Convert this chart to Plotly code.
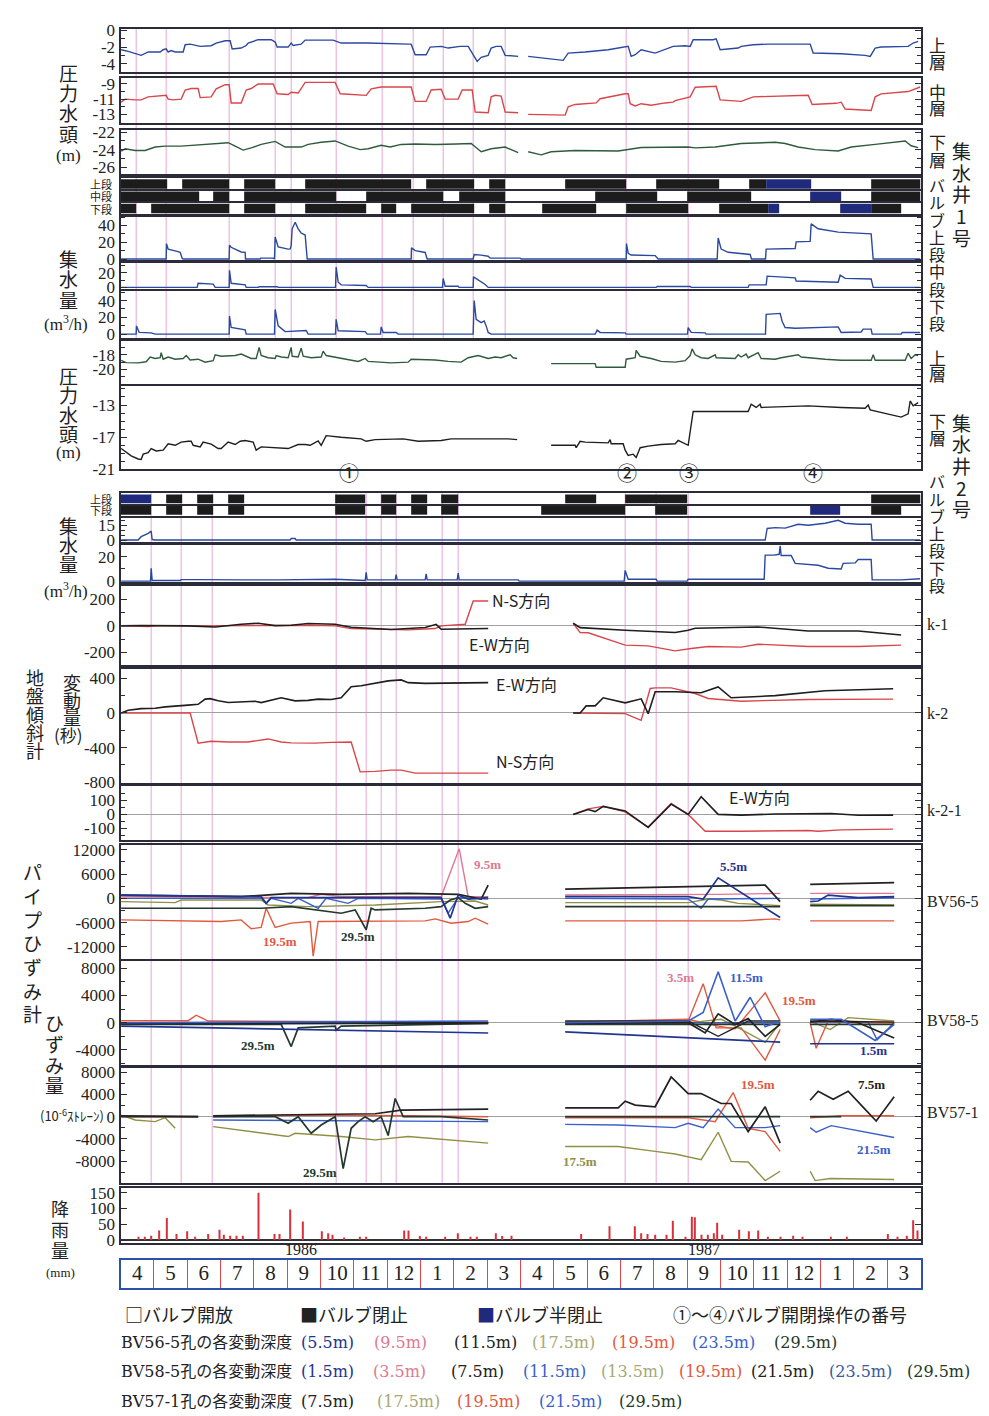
import plotly.graph_objects as go

# ====================== DATA ======================
# x values: months counted from 1 April 1986 (0) to 1 April 1988 (24)
month_labels = ['4', '5', '6', '7', '8', '9', '10', '11', '12', '1', '2', '3',
                '4', '5', '6', '7', '8', '9', '10', '11', '12', '1', '2', '3']
year_labels = ['1986', '1987']
year_pos = [5.4, 17.5]

# valve operation times (pink reference lines)
ops_top = [0.47, 1.37, 3.26, 4.64, 5.12, 6.47, 7.85, 8.78, 9.68, 10.58, 11.54, 15.17, 17.03]
ops_bottom = [0.92, 1.82, 2.75, 6.47, 7.37, 7.82, 8.27, 9.65, 10.13, 15.14, 16.07, 17.03]
op_numbers = ['①', '②', '③', '④']
op_times = [6.85, 15.2, 17.05, 20.78]

# ---- collecting well No.1 : pressure head (m) ----
w1_up_t = [0.02, 0.23, 0.62, 0.83, 1.19, 1.28, 1.37, 1.43, 1.52, 1.64, 1.88, 1.94, 2.09, 2.39, 2.72, 2.87, 3.14, 3.29, 3.35, 3.62,
           3.77, 3.83, 4.13, 4.52, 4.64, 4.70, 5.03, 5.12, 5.18, 5.42, 5.54, 6.38, 6.62, 7.43, 8.63, 8.72, 8.84, 9.17, 9.29, 9.62,
           9.83, 10.19, 10.43, 10.58, 10.70, 10.82, 11.03, 11.12, 11.27, 11.42, 11.54, 11.93, None,
           12.23, 13.28, 13.43, 13.94, 14.63, 15.14, 15.23, 15.32, 15.44, 15.62, 15.74, 16.04, 16.58, 16.94, 17.09, 17.18, 17.78,
           17.87, 17.99, 18.53, 18.62, 18.98, 19.43, 20.69, 20.78, 21.62, 22.34, 22.49, 22.64, 22.82, 23.63, 23.78, 23.93]
w1_up_v = [-2.3, -2.5, -2.97, -2.57, -2.57, -2.3, -2.2, -2.57, -2.4, -2.57, -2.57, -1.7, -1.63, -1.9, -1.82, -1.5, -1.23, -1.23, -2.2, -2.1,
           -1.8, -1.5, -1.1, -1.1, -1.38, -1.98, -1.98, -1.5, -1.78, -1.63, -1.15, -1.15, -1.5, -1.5, -1.63, -1.63, -2.9, -2.9, -1.98, -1.9,
           -2.1, -1.9, -1.9, -2.9, -3.7, -3.2, -2.97, -2.1, -1.9, -1.9, -2.97, -3.1, None,
           -3.1, -3.57, -2.7, -2.57, -2.3, -1.9, -1.9, -3.1, -2.9, -2.3, -2.4, -2.7, -1.9, -1.82, -1.9, -1.1, -1.1, -1.0, -2.3, -2.1,
           -1.9, -1.7, -1.63, -1.63, -2.7, -2.78, -2.97, -3.1, -2.1, -1.98, -1.9, -1.5, -1.3]

w1_mid_t = [0.02, 0.14, 0.44, 0.62, 0.83, 1.22, 1.37, 1.43, 1.58, 1.82, 1.94, 2.12, 2.33, 2.39, 2.72, 2.87, 3.14, 3.26, 3.32, 3.62,
            3.77, 3.92, 4.13, 4.58, 4.70, 5.03, 5.12, 5.33, 5.42, 5.54, 6.44, 6.59, 7.37, 7.52, 7.82, 8.72, 8.84, 9.17, 9.32, 9.62,
            9.74, 10.13, 10.25, 10.55, 10.64, 11.03, 11.12, 11.24, 11.42, 11.54, 11.93, None,
            12.23, 13.34, 13.43, 13.64, 14.27, 14.39, 15.14, 15.23, 15.29, 15.44, 15.62, 15.92, 16.34, 16.58, 16.64, 17.09, 17.24, 17.78,
            17.87, 17.99, 18.62, 18.98, 20.63, 20.75, 21.47, 21.62, 21.74, 22.52, 22.64, 22.82, 23.63, 23.99]
w1_mid_v = [-11.4, -11.0, -11.1, -11.1, -10.7, -10.5, -10.5, -11.0, -11.1, -11.0, -9.8, -9.6, -9.6, -10.8, -10.7, -9.65, -9.1, -9.1, -11.5, -11.5,
            -9.8, -9.6, -9.0, -9.0, -10.3, -10.4, -10.1, -10.2, -9.65, -8.8, -8.8, -10.3, -10.5, -9.65, -9.4, -9.4, -11.3, -11.3, -9.8, -9.7,
            -11.0, -11.0, -9.8, -9.8, -12.7, -12.8, -10.7, -10.5, -10.6, -12.7, -12.8, None,
            -13.0, -13.1, -12.0, -11.7, -11.5, -10.95, -10.3, -10.3, -11.6, -11.9, -11.6, -11.8, -11.5, -11.4, -11.2, -10.7, -9.43, -9.35,
            -9.3, -11.1, -11.3, -10.7, -10.5, -11.7, -11.55, -11.4, -12.3, -12.5, -10.7, -10.3, -10.0, -9.4]

w1_low_t = [0.02, 0.14, 0.44, 0.74, 1.04, 1.34, 1.82, 2.63, 3.23, 3.44, 3.68, 3.92, 4.22, 4.64, 4.94, 5.42, 5.63, 6.02, 6.44, 6.83,
            7.19, 7.43, 7.82, 8.09, 8.42, 8.84, 9.44, 10.07, 10.52, 10.82, 11.12, 11.54, 11.93, None,
            12.23, 12.62, 12.92, 13.64, 14.93, 15.62, 17.03, 17.24, 17.84, 18.62, 19.64, 19.94, 20.33, 20.84, 21.53, 21.92, 22.64, 23.54, 23.72, 23.93]
w1_low_v = [-24.17, -23.9, -24.1, -24.1, -23.7, -23.6, -23.6, -23.4, -23.2, -23.6, -24.05, -23.8, -23.4, -23.05, -23.7, -23.7, -23.4, -23.15, -23.0, -23.6,
            -24.0, -23.9, -23.5, -23.7, -23.4, -23.35, -23.4, -23.35, -23.3, -24.24, -23.9, -23.7, -24.35, None,
            -24.24, -24.6, -24.24, -24.1, -24.15, -23.76, -23.7, -23.8, -23.7, -23.3, -23.15, -23.3, -23.7, -24.0, -24.15, -23.7, -23.4, -23.0, -23.55, -23.76]

# ---- collecting well No.1 : valves (1 = closed, 2 = half closed) ----
v1_up_start = [0, 1.85, 3.71, 5.54, 9.17, 11.06, 13.34, 16.07, 18.86, 19.37, 22.52]
v1_up_end = [1.40, 3.26, 4.64, 8.72, 10.61, 11.54, 15.17, 17.96, 19.37, 20.72, 24.0]
v1_up_state = [1, 1, 1, 1, 1, 1, 1, 1, 1, 2, 1]
v1_mid_start = [0, 2.78, 3.71, 7.37, 10.16, 14.24, 17.0, 20.69, 22.52]
v1_mid_end = [2.36, 3.26, 6.47, 9.68, 11.54, 16.10, 18.92, 21.62, 24.0]
v1_mid_state = [1, 1, 1, 1, 1, 1, 1, 2, 1]
v1_low_start = [0, 0.92, 3.71, 5.54, 7.82, 8.72, 11.06, 12.65, 15.17, 17.96, 19.43, 21.59, 22.52]
v1_low_end = [0.47, 3.26, 4.64, 7.37, 8.27, 10.61, 11.54, 14.27, 17.03, 19.43, 19.76, 22.52, 23.42]
v1_low_state = [1, 1, 1, 1, 1, 1, 1, 1, 1, 1, 2, 2, 1]

# ---- collecting well No.1 : discharge (m3/h) ----
f1_up_t = [0.02, 1.37, 1.38, 1.43, 1.67, 1.79, 1.85, 1.88, 3.26, 3.27, 3.32, 3.62, 3.74, 3.75, 4.19, 4.20, 4.58, 4.62, 4.64, 4.73,
           5.03, 5.09, 5.12, 5.15, 5.24, 5.33, 5.42, 5.54, 5.60, 8.72, 8.73, 8.84, 9.14, 9.20, 10.58, 10.61, 10.82, 11.03, 11.09, 11.99,
           12.02, 15.17, 15.18, 15.23, 15.32, 16.04, 16.13, 17.90, 17.93, 18.02, 18.23, 18.89, 18.93, 19.35, 19.37, 20.24, 20.27, 20.69, 20.72, 20.93,
           21.53, 22.52, 22.58, 23.99]
f1_up_v = [0, 0, 18.4, 11.8, 9.4, 8, 0.8, 0, 0, 16.5, 14, 8.4, 8, 0, 0, 1, 1, 0, 26.2, 14.5,
           11.8, 12, 15.7, 36, 43.9, 36, 31, 28.6, 0, 0, 13.3, 10, 7.8, 0, 0, 5.4, 4.7, 3.3, 1, 1,
           0, 0, 18.4, 6.7, 4.7, 4.1, 0, 0, 25, 11.8, 8, 5.4, 0, 0, 11.8, 12.5, 20.4, 21, 41.9, 36,
           32.1, 30, 0, 0]
f1_mid_t = [0.02, 2.30, 2.33, 2.78, 2.84, 3.26, 3.27, 3.32, 3.74, 3.77, 4.13, 4.16, 4.70, 4.73, 6.45, 6.47, 6.53, 6.62, 7.37, 7.43,
            9.66, 9.68, 9.74, 10.13, 10.16, 10.58, 10.59, 10.73, 10.94, 11.03, 11.63, 11.66, 12.02, 12.05, 12.92, 12.95, 13.34, 13.37, 13.82, 13.85,
            14.27, 14.30, 16.07, 16.10, 17.09, 17.12, 18.83, 18.86, 19.37, 19.40, 19.61, 20.24, 20.27, 21.53, 21.59, 21.74, 22.52, 22.58, 23.99]
f1_mid_v = [0, 0, 5.6, 4.5, 0, 0, 23, 5.6, 3.5, 0, 0, 1, 1, 0, 0, 27.4, 7, 3.5, 2.5, 0,
            0, 12, 1.5, 1.5, 0, 0, 14.3, 10, 4, 0, 0, 1, 1, 0, 0, 1, 1, 0, 0, 1,
            1, 0, 0, 1.3, 1.3, 0, 0, 3.5, 3.5, 15.2, 14.5, 13, 8.7, 7, 16.5, 12.2, 11.3, 0, 0]
f1_low_t = [0.02, 0.47, 0.48, 0.56, 0.92, 1.04, 3.26, 3.27, 3.32, 3.74, 3.77, 4.62, 4.64, 4.73, 4.94, 5.18, 5.24, 5.57, 5.63, 6.45,
            6.47, 6.53, 7.34, 7.40, 7.80, 7.82, 7.88, 8.27, 8.33, 10.58, 10.61, 10.67, 10.82, 10.91, 10.97, 11.03, 11.12, 14.24, 14.30, 14.39,
            15.14, 15.17, 17.01, 17.03, 17.12, 17.54, 17.57, 19.35, 19.37, 19.52, 19.79, 19.85, 19.94, 20.24, 21.53, 21.62, 22.22, 22.28, 22.52, 22.55,
            23.42, 23.45, 23.99]
f1_low_v = [0, 0, 9.8, 2, 1.5, 0, 0, 21.5, 8, 5, 0, 0, 29.4, 9.8, 3, 3.5, 4.3, 4.3, 0, 0,
            17.6, 4, 3, 0, 0, 8.6, 2, 2, 0, 0, 40, 17.6, 13.7, 15.7, 9.8, 2, 0, 0, 4.7, 2,
            1.5, 0, 0, 7.8, 2, 1.5, 0, 0, 23.5, 24, 24.7, 15, 7.8, 7, 8.6, 2, 2.5, 6, 6, 0,
            0, 2, 2]

# ---- collecting well No.2 : pressure head (m) ----
w2_up_t = [0.02, 0.17, 0.53, 0.77, 0.89, 1.04, 1.19, 1.22, 1.28, 1.43, 1.64, 1.88, 1.97, 2.09, 2.33, 2.54, 2.78, 2.84, 3.02, 3.44,
           3.62, 3.77, 3.92, 4.07, 4.16, 4.22, 4.43, 4.64, 4.67, 4.82, 5.03, 5.12, 5.15, 5.33, 5.42, 5.48, 5.72, 6.02, 6.08, 6.17,
           6.62, 7.13, 7.34, 7.43, 8.12, 8.63, 8.72, 9.02, 9.44, 9.83, 10.22, 10.43, 10.73, 11.03, 11.24, 11.42, 11.69, 11.78, 11.90, None,
           12.92, 14.24, 14.27, 15.14, 15.17, 15.44, 15.47, 15.59, 15.92, 16.22, 16.64, 16.94, 17.09, 17.15, 17.24, 17.42, 17.63, 17.84, 17.87, 18.44,
           18.53, 18.62, 18.77, 18.83, 19.13, 19.22, 19.64, 19.82, 20.33, 20.42, 21.14, 21.62, 22.52, 22.58, 22.64, 23.54, 23.63, 23.72, 23.84, 23.93]
w2_up_v = [-18.76, -19.07, -19.1, -18.95, -18.3, -18.5, -18.4, -17.7, -18.6, -18.3, -18.6, -18.5, -18.1, -18.7, -18.6, -19.0, -18.8, -18.0, -18.2, -18.1,
           -17.9, -18.2, -18.5, -18.5, -17.0, -18.1, -18.4, -18.5, -18.1, -18.3, -18.4, -17.0, -18.2, -18.3, -17.1, -18.2, -18.4, -18.3, -17.5, -18.1,
           -18.5, -18.9, -18.5, -18.9, -19.1, -19.0, -18.6, -18.6, -18.7, -18.9, -19.0, -18.4, -18.1, -18.5, -18.3, -18.4, -18.0, -18.4, -18.5, None,
           -19.2, -19.2, -19.7, -19.7, -18.6, -18.4, -17.4, -18.2, -18.5, -18.9, -19.0, -18.8, -18.1, -17.2, -18.0, -18.4, -18.5, -18.0, -18.4, -18.5,
           -18.0, -18.3, -17.9, -18.4, -17.7, -18.5, -18.6, -18.4, -18.0, -18.3, -18.6, -18.75, -18.75, -18.0, -18.75, -18.75, -17.8, -18.5, -18.0, -18.1]
w2_low_t = [0.02, 0.17, 0.32, 0.53, 0.62, 0.68, 0.83, 0.92, 1.07, 1.28, 1.43, 1.64, 1.82, 2.03, 2.12, 2.18, 2.39, 2.48, 2.72, 2.93,
            3.02, 3.23, 3.44, 3.59, 3.74, 3.98, 4.07, 4.22, 4.52, 5.03, 5.33, 5.54, 5.69, 5.93, 6.02, 6.17, 6.62, 7.22, 7.37, 7.64,
            8.48, 8.93, 9.62, 9.92, 11.63, 11.90, None,
            12.92, 13.64, 13.67, 13.79, 13.94, 14.42, 14.63, 14.69, 14.72, 15.08, 15.14, 15.23, 15.38, 15.47, 15.59, 15.83, 16.22, 16.64, 16.73, 17.03,
            17.12, 17.18, 18.83, 18.92, 19.07, 19.19, 19.22, 20.63, 21.62, 22.34, 22.43, 22.49, 23.42, 23.63, 23.69, 23.78, 23.93]
w2_low_v = [-18.4, -18.8, -19.3, -19.7, -19.75, -19.1, -18.9, -18.4, -18.7, -18.6, -17.8, -18.0, -17.6, -17.5, -17.5, -18.0, -18.2, -17.6, -17.85, -18.4,
            -18.4, -17.6, -17.9, -17.5, -17.4, -17.6, -18.6, -18.2, -18.3, -18.4, -17.9, -17.9, -18.0, -17.45, -18.0, -16.8, -17.0, -17.2, -17.5, -17.3,
            -17.2, -17.5, -17.4, -17.2, -17.2, -17.3, None,
            -18.0, -18.0, -18.3, -17.5, -17.6, -17.7, -17.7, -17.3, -17.8, -17.8, -18.6, -19.25, -19.1, -19.5, -18.3, -18.1, -17.9, -17.8, -17.4, -18.0,
            -15.3, -13.8, -13.8, -12.9, -13.3, -12.9, -13.3, -13.1, -13.3, -13.4, -13.0, -13.6, -14.5, -14.1, -12.5, -13.1, -12.7]

# ---- collecting well No.2 : valves ----
v2_up_start = [0, 1.37, 2.30, 3.23, 6.44, 7.82, 8.72, 9.62, 13.34, 15.14, 22.52]
v2_up_end = [0.92, 1.85, 2.78, 3.71, 7.34, 8.27, 9.20, 10.13, 14.27, 17.0, 24.0]
v2_up_state = [2, 1, 1, 1, 1, 1, 1, 1, 1, 1, 1]
v2_low_start = [0, 1.37, 2.30, 3.23, 6.44, 7.82, 8.72, 9.62, 12.62, 16.04, 20.69, 22.52]
v2_low_end = [0.92, 1.85, 2.78, 3.71, 7.34, 8.27, 9.20, 10.13, 15.14, 17.0, 21.59, 23.42]
v2_low_state = [1, 1, 1, 1, 1, 1, 1, 1, 1, 1, 2, 1]

# ---- collecting well No.2 : discharge (m3/h) ----
f2_up_t = [0.02, 0.53, 0.62, 0.83, 0.92, 0.95, 1.04, 5.09, 5.12, 5.24, 5.27, 19.34, 19.40, 19.64, 19.94, 20.33, 20.63, 21.14, 21.53, 21.74,
           22.13, 22.52, 22.55, 23.99]
f2_up_v = [0, 0, 3.4, 6.7, 9, 0.5, 0, 0, 1.5, 1.5, 0, 0, 11.7, 12.5, 12, 16, 15, 17, 20, 17,
           16, 16, 0, 0]
f2_low_t = [0.02, 0.90, 0.92, 0.95, 1.79, 1.82, 2.33, 2.78, 3.71, 4.73, 6.44, 7.34, 7.37, 7.40, 8.24, 8.27, 8.30, 9.14, 9.17, 9.20,
            10.10, 10.13, 10.16, 11.93, 11.96, 15.11, 15.14, 15.23, 16.07, 16.10, 17.0, 17.03, 19.31, 19.34, 19.61, 19.76, 19.79, 19.82, 20.12, 20.24,
            20.93, 21.23, 21.62, 21.68, 22.04, 22.13, 22.52, 22.55, 23.42, 23.99]
f2_low_v = [0, 0, 10.6, 0.5, 0.5, 1.2, 1.2, 1, 1, 1, 1.5, 0.5, 7.2, 1, 1, 5.3, 1, 1, 6, 1,
            1, 6.6, 1, 1, 0, 0, 8.8, 1.6, 1.6, 0, 0, 1.5, 1.5, 21.3, 21.3, 22, 29, 21, 21, 14.6,
            13, 10.6, 10, 14.6, 15, 17.8, 17.8, 1, 1, 2]

# ---- ground tiltmeters (seconds) ----
k1_ew_t = [0.02, 0.62, 2.03, 2.63, 2.84, 3.62, 4.13, 4.64, 5.12, 5.63, 6.44, 6.92, 7.13, 7.64, 8.12, 8.63, 9.14, 9.47, 9.62, 11.03, None,
           13.58, 13.79, 15.14, 16.64, 17.03, 17.24, 19.13, 20.63, 22.13, 23.42]
k1_ew_v = [0, 3, 0, -5, -8, 12, 20, 2, 5, 18, 12, -10, -13, -20, -27, -20, -12, 12, -25, -20, None,
           20, -13, -33, -50, -33, -18, -8, -38, -38, -68]
k1_ns_t = [0.02, 0.83, 1.13, 2.63, 5.63, 6.44, 6.92, 7.64, 8.63, 9.44, 9.62, 10.34, 10.58, 11.03, None,
           13.58, 13.79, 14.03, 15.14, 15.83, 16.64, 17.12, 17.63, 18.62, 19.13, 20.63, 22.13, 23.42]
k1_ns_v = [0, -5, 2, 0, 5, 0, -20, -25, -30, -20, 0, 12, 187, 187, None,
           20, -50, -52, -145, -150, -188, -170, -155, -160, -138, -155, -155, -145]
k2_ew_t = [0.02, 0.23, 0.62, 1.04, 1.34, 1.64, 2.03, 2.33, 2.54, 2.69, 2.93, 3.23, 3.62, 4.04, 4.22, 4.52, 4.82, 5.24, 5.63, 5.93,
           6.32, 6.62, 6.92, 7.22, 7.52, 8.03, 8.42, 8.63, 9.14, 9.62, 11.03, None,
           13.58, 13.79, 13.97, 14.24, 14.48, 15.14, 15.62, 15.83, 16.04, 16.64, 17.42, 17.93, 18.32, 19.64, 21.14, 22.64, 23.18]
k2_ew_v = [0, 31, 50, 55, 70, 75, 90, 100, 160, 165, 140, 120, 125, 136, 120, 145, 175, 140, 145, 160,
           155, 175, 303, 315, 334, 370, 382, 350, 342, 342, 350, None,
           0, 0, 82, 82, 175, 117, 163, -8, 245, 245, 233, 300, 175, 200, 257, 280, 280]
k2_ns_t = [0.02, 2.09, 2.33, 2.72, 3.23, 3.83, 4.43, 4.82, 5.12, 5.84, 6.32, 6.92, 7.19, 7.64, 8.12, 8.42, 8.84, 9.62, 11.03, None,
           13.58, 15.14, 15.62, 15.89, 16.04, 16.52, 17.24, 17.63, 18.62, 20.63, 23.18]
k2_ns_v = [0, 0, -350, -326, -335, -335, -300, -335, -345, -348, -340, -335, -680, -675, -660, -660, -695, -695, -695, None,
           0, -8, -85, 283, 290, 290, 225, 167, 136, 155, 160]
k21_ew_t = [13.58, 14.03, 14.24, 14.48, 15.14, 15.83, 16.52, 17.03, 17.42, 17.93, 18.62, 19.64, 21.32, 22.13, 23.18]
k21_ew_v = [0, 35, 20, 57, 25, -92, 73, 0, 126, 0, -5, 3, 7, -6, -5]
k21_ns_t = [13.58, 14.03, 14.48, 15.14, 15.83, 16.52, 17.03, 17.54, 18.62, 20.63, 20.93, 21.62, 23.18]
k21_ns_v = [0, 40, 57, 18, -90, 78, 0, -120, -120, -115, -120, -110, -105]

# ---- pipe strain gauge BV56-5 (1e-6 strain) ----
bv56_5_5_t = [0.02, 4.22, 4.37, 4.52, 5.63, 7.13, 9.62, 9.89, 10.13, 10.43, 10.82, 11.03, None,
              13.34, 17.03, 17.48, 17.93, 19.79, None, 20.69, 20.93, 21.23, 22.13, 23.21]
bv56_5_5_v = [825, 415, -1220, 170, 170, 170, 170, -4890, 825, -155, 170, 170, None,
              415, 415, -155, 5070, -4730, None, -810, -645, 825, 170, 415]
bv56_9_5_t = [0.02, 5.63, 6.02, 6.62, 9.62, 10.16, 10.43, 11.03, None, 13.34, 17.42, 17.93, 19.79, None, 20.69, 23.21]
bv56_9_5_v = [400, 170, 1000, 415, 415, 12257, 415, 415, None, 825, 825, 990, 1230, None, 1230, 1230]
bv56_11_5_t = [0.02, 3.62, 5.12, 6.62, 8.63, 10.13, 10.82, 11.03, None, 13.34, 19.34, 19.79, None, 20.69, 23.21]
bv56_11_5_v = [825, 415, 1230, 990, 1230, 990, -155, 3270, None, 2295, 3270, -810, None, 3440, 3900]
bv56_17_5_t = [0.02, 1.64, 1.82, 4.22, 4.43, 5.63, 7.64, 9.62, 10.64, 11.03, None, 13.34, 17.03, 17.63, 18.02, 18.53, 19.79, None, 20.69, 23.21]
bv56_17_5_v = [-810, -1050, -400, -400, -1620, -2040, -1620, -810, -645, -1625, None, -1050, -1050, -155, -400, -1220, -1790, None, -1460, -1625]
bv56_19_5_t = [0.02, 3.02, 3.62, 3.92, 4.22, 4.37, 4.64, 5.12, 5.69, 5.78, 5.93, 7.13, 7.64, 9.14, 9.44, 9.92, 10.43, 10.64, 11.03, None,
               13.34, 18.62, 19.64, 19.79, None, 20.69, 23.21]
bv56_19_5_v = [-5300, -5710, -5300, -7500, -7180, -2440, -7180, -6120, -5710, -14290, -5710, -5710, -5545, -5545, -5060, -6120, -5710, -4890, -6360, None,
               -5545, -5545, -5060, -5300, None, -5545, -5545]
bv56_23_5_t = [0.02, 4.22, 4.37, 4.52, 5.12, 5.33, 5.93, 6.17, 6.83, 7.13, 9.62, 9.83, 10.13, 11.03, None,
               13.34, 17.03, 17.42, 17.63, 19.79, None, 20.69, 23.21]
bv56_23_5_v = [10, 10, -1220, 10, -1220, 10, -2440, 10, -1220, 10, -155, -3670, 170, -155, None,
               10, -155, -2440, -155, 10, None, -155, 170]
bv56_29_5_t = [0.02, 4.22, 5.12, 6.62, 7.04, 7.37, 7.52, 7.64, 9.14, 9.62, 9.89, 10.13, 10.34, 10.64, 11.03, None,
               13.34, 19.79, None, 20.69, 23.21]
bv56_29_5_v = [-2440, -2440, -2040, -3670, -2850, -7750, -2440, -2850, -2440, -2040, -400, 170, -1220, -2440, -2040, None,
               -2040, -2040, None, -1790, -1790]

# ---- pipe strain gauge BV58-5 ----
bv58_1_5_t = [0.02, 11.03, None, 13.34, 19.79, None, 20.69, 23.21]
bv58_1_5_v = [-500, -1500, None, -1350, -2850, None, -3100, -3100]
bv58_3_5_t = [0.02, 2.03, 2.27, 2.63, 11.03, None, 13.34, 17.03, 17.48, 17.87, 18.62, 19.34, 19.79, None, 20.69, 20.87, 21.23, 23.21]
bv58_3_5_v = [300, 300, 1100, 245, 95, None, 95, 245, 5745, -755, -755, -5500, -1000, None, 0, -3755, 245, 95]
bv58_7_5_t = [0.02, 11.03, None, 13.34, 17.03, 17.54, 17.93, 18.44, 18.83, 19.34, 19.79, None, 20.69, 21.32, 22.13, 23.21]
bv58_7_5_v = [-100, -100, None, -100, 0, -1500, 1300, -250, 600, -2000, -250, None, 95, 500, 0, -2250]
bv58_11_5_t = [0.02, 11.03, None, 13.34, 17.03, 17.48, 17.93, 18.44, 18.89, 19.34, 19.79, None, 20.69, 21.62, 22.64, 23.21]
bv58_11_5_v = [0, 245, None, 0, 245, 1500, 7500, 245, 3745, -600, 245, None, 500, 500, -2600, -250]
bv58_13_5_t = [0.02, 11.03, None, 13.34, 17.24, 18.02, 18.44, 19.34, 19.79, None, 20.69, 21.29, 21.83, 23.21]
bv58_13_5_v = [0, 0, None, 95, 95, 500, -500, -2900, 0, None, 245, -1000, 745, 245]
bv58_19_5_t = [0.02, 11.03, None, 13.34, 17.03, 17.93, 18.44, 19.34, 19.79, None, 20.69, 23.21]
bv58_19_5_v = [0, 0, None, 95, 500, -500, -900, 4395, 245, None, 95, 0]
bv58_21_5_t = [0.02, 11.03, None, 13.34, 17.03, 17.93, 18.83, 19.79, None, 20.69, 23.21]
bv58_21_5_v = [0, 0, None, 245, 245, -2000, 245, 245, None, 245, 95]
bv58_23_5_t = [0.02, 11.03, None, 13.34, 19.79, None, 20.69, 22.43, 22.70, 23.21]
bv58_23_5_v = [-250, 0, None, 0, 0, None, 95, 95, -2500, 0]
bv58_29_5_t = [0.02, 4.82, 5.12, 5.33, 6.44, 6.47, 6.62, 11.03, None, 13.34, 19.79, None, 20.69, 23.21]
bv58_29_5_v = [-250, -250, -3500, -750, -500, -1100, -500, -100, None, -250, -250, None, -250, -250]

# ---- pipe strain gauge BV57-1 ----
bv57_7_5_t = [0.02, 2.33, None, 2.78, 7.64, 8.42, 11.03, None,
              13.34, 14.93, 15.14, 15.44, 16.04, 16.52, 17.03, 17.42, 18.02, 18.32, 18.83, 19.34, 19.79, None,
              20.69, 20.93, 21.38, 21.83, 22.22, 22.67, 23.21]
bv57_7_5_v = [170, 0, None, 170, 530, 1180, 1360, None,
              1600, 1600, 2780, 2070, 1780, 7120, 4150, 4150, 2370, 2370, -2670, 1780, -4750, None,
              2960, 4560, 3140, 4560, 2070, -770, 3560]
bv57_17_5_t = [0.02, 0.44, 1.04, 1.34, 1.64, None, 2.78, 5.03, 5.24, 6.62, 7.64, 8.63, 11.03, None,
               13.34, 14.93, 16.04, 16.64, 17.42, 17.93, 18.32, 18.83, 19.34, 19.79, None, 20.69, 20.84, 21.29, 23.21]
bv57_17_5_v = [290, -590, -890, -180, -2080, None, -1780, -3560, -2970, -3560, -4160, -3560, -4750, None,
               -5340, -5340, -6230, -6700, -7720, -2790, -8010, -8130, -11460, -9790, None, -9790, -11460, -11100, -11280]
bv57_19_5_t = [0.02, 2.33, None, 2.78, 5.63, 8.63, 11.03, None, 13.34, 17.03, 17.84, 18.38, 18.83, 19.34, 19.79, None, 20.69, 21.62, 23.21]
bv57_19_5_v = [0, 0, None, 0, 290, 170, 0, None, -180, -180, -890, 4325, -2080, -2670, -6230, None, -180, 170, 170]
bv57_21_5_t = [2.78, 11.03, None, 13.34, 14.93, 16.64, 17.03, 17.48, 17.93, 18.44, 19.34, 19.79, None, 20.69, 20.87, 21.32, 23.21]
bv57_21_5_v = [-590, -890, None, -1370, -1490, -1960, -1190, -1960, 1360, -1960, -1960, -1600, None, -1960, -2790, -1600, -3740]
bv57_29_5_t = [0.02, 2.33, None, 2.78, 4.64, 5.03, 5.33, 5.72, 6.02, 6.44, 6.68, 6.92, 7.13, 7.34, 7.58, 7.82, 8.03, 8.24, 8.48, 9.62, 10.13, 11.03, None,
               13.34, 19.79, None, 20.69, 21.62]
bv57_29_5_v = [0, 0, None, 0, 0, -1190, 0, -2970, -1490, 0, -9320, -2080, -890, 0, -890, 0, -3380, 3260, 0, 0, -180, -590, None,
               0, 0, None, 0, 0]

# ---- rainfall (mm/day) ----
rain_t = [0.54, 0.73, 0.92, 1.16, 1.39, 1.68, 2.0, 2.24, 2.63, 2.97, 3.10, 3.29, 3.48, 3.67, 4.14, 4.62, 4.77, 5.09, 5.47, 6.04,
          6.23, 6.36, 6.71, 7.18, 7.37, 8.51, 8.64, 8.98, 9.17, 9.74, 10.12, 10.50, 10.69, 11.26, 11.45, 11.73, 13.82, 14.67, 15.43, 15.62,
          15.81, 16.04, 16.38, 16.57, 16.95, 17.14, 17.23, 17.43, 17.62, 17.80, 17.90, 18.05, 18.56, 18.85, 19.13, 19.42, 19.80, 20.18, 20.46, 21.31,
          21.79, 23.02, 23.31, 23.59, 23.78, 23.91]
rain_mm = [11, 11, 14, 30, 70, 19, 28, 11, 19, 33, 17, 14, 14, 14, 150, 19, 19, 97, 59, 28,
           22, 17, 8, 11, 11, 30, 30, 13, 11, 11, 22, 11, 11, 22, 13, 14, 19, 44, 44, 22,
           19, 17, 17, 61, 11, 74, 72, 17, 17, 22, 55, 17, 33, 28, 30, 11, 11, 14, 11, 11,
           11, 19, 11, 14, 63, 30]

# ====================== STYLE / LAYOUT ======================
W, H = 989, 1416
X0, X1 = 112.5, 912.5
JP = "Noto Sans CJK JP"
SERIF = "Liberation Serif, Noto Sans CJK JP"
DSERIF = "DejaVu Serif, Noto Sans CJK JP"
INK = "#222222"
FRAME = "#2b2b3a"
BLUE = "#2a48a0"
RED = "#d9464a"
GREEN = "#2f5a3c"
BLACK = "#1e1e1e"
CLOSED = "#1c1c1c"
HALF = "#1f2a7c"
PINK = "#e7a4d4"
C_NAVY = "#1f3590"
C_PINK = "#e07890"
C_BLACK = "#222222"
C_OLIVE = "#8f8f45"
C_ORANGE = "#e2583e"
C_BLUE = "#3a5fc8"
C_STEEL = "#3a5aa0"
C_DARK = "#24392c"

PANELS = [
    # name, top px, bottom px, y-range, labelled ticks, minor step, zero line
    ("w1_up", 14, 58, [-5.0, 0.2], [0, -2, -4], 1, False),
    ("w1_mid", 64, 109, [-14.1, -8.25], [-9, -11, -13], 1, False),
    ("w1_low", 116, 161, [-26.8, -21.7], [-22, -24, -26], 1, False),
    ("v1", 165, 202, [0, 3], None, None, False),
    ("f1u", 203, 248, [-1.2, 51.8], [0, 20, 40], 10, False),
    ("f1m", 251, 277, [-1.7, 33], [0, 20], 10, False),
    ("f1l", 279, 328, [-5.9, 51.8], [0, 20, 40], 10, False),
    ("w2_up", 329, 373, [-21.9, -16], [-18, -20], 1, False),
    ("w2_low", 376, 460, [-21, -10.7], [-13, -17, -21], 1, False),
    ("v2", 484, 507, [0, 2], None, None, False),
    ("f2u", 509, 533, [-1.6, 22.4], [0, 15], 5, False),
    ("f2l", 536, 574, [-0.8, 30], [0, 20], 10, False),
    ("k1", 578, 658, [-295, 300], [200, 0, -200], 100, True),
    ("k2", 662, 777, [-805, 507], [400, 0, -400, -800], 200, True),
    ("k21", 780, 835, [-182, 205], [100, 0, -100], 50, True),
    ("bv56", 840, 955, [-14850, 13200], [12000, 6000, 0, -6000, -12000], 3000, True),
    ("bv58", 958, 1063, [-6250, 9000], [8000, 4000, 0, -4000], 2000, True),
    ("bv57", 1066, 1182, [-11860, 8700], [8000, 4000, 0, -4000, -8000], 2000, True),
    ("rain", 1187, 1243, [-9.4, 165.6], [0, 50, 100, 150], None, False),
    ("month", 1260, 1288, [0, 1], None, None, False),
]
AX = {}
layout_axes = {}
for i, (name, top, bot, yr, tv, minor, zl) in enumerate(PANELS, start=1):
    AX[name] = i
    sfx = "" if i == 1 else str(i)
    edge = "#2d50a8" if name == "month" else FRAME
    xa = dict(domain=[X0 / W, X1 / W], range=[0, 24], anchor="y" + sfx, showgrid=False, zeroline=False,
              showticklabels=False, ticks="", showline=True, mirror=True, linecolor=edge, linewidth=2)
    ya = dict(domain=[1 - bot / H, 1 - top / H], range=yr, anchor="x" + sfx, showgrid=False,
              zeroline=zl, zerolinecolor="#a0a0a0", zerolinewidth=1,
              showline=True, mirror="ticks" if tv else True, linecolor=edge, linewidth=2)
    if tv:
        ya.update(tickmode="array", tickvals=tv, ticktext=[str(v) for v in tv], ticks="inside", ticklen=6,
                  tickcolor=FRAME, tickfont=dict(family=SERIF, size=17, color=INK))
        if minor:
            ya["minor"] = dict(tick0=0, dtick=minor, ticks="inside", ticklen=4, tickcolor=FRAME)
    else:
        ya.update(showticklabels=False, ticks="")
    if name in ("v1", "v2"):
        ya.update(tickmode="array", tickvals=[1, 2] if name == "v1" else [1], showgrid=True,
                  gridcolor=FRAME, gridwidth=2)
    if name == "month":
        xa.update(tickmode="array", tickvals=list(range(1, 24)), showgrid=True, gridcolor="#e04848", gridwidth=1)
    if name == "rain":
        ya.update(zeroline=True, zerolinecolor="#333333", zerolinewidth=2)
    layout_axes["xaxis" + sfx] = xa
    layout_axes["yaxis" + sfx] = ya


def axref(name):
    i = AX[name]
    s = "" if i == 1 else str(i)
    return "x" + s, "y" + s


fig = go.Figure()


def add_line(name, t, v, color, width=1.4):
    xr, yr = axref(name)
    fig.add_trace(go.Scatter(x=t, y=v, mode="lines", line=dict(color=color, width=width),
                             xaxis=xr, yaxis=yr, hoverinfo="skip", connectgaps=False))


def add_valves(name, row, starts, ends, states):
    xr, yr = axref(name)
    fig.add_trace(go.Bar(orientation="h", base=starts, x=[e - s for s, e in zip(starts, ends)],
                         y=[row] * len(starts), width=0.78,
                         marker=dict(color=[CLOSED if st == 1 else HALF for st in states], line=dict(width=0)),
                         xaxis=xr, yaxis=yr, hoverinfo="skip"))


# well 1
add_line("w1_up", w1_up_t, w1_up_v, BLUE)
add_line("w1_mid", w1_mid_t, w1_mid_v, RED)
add_line("w1_low", w1_low_t, w1_low_v, GREEN)
add_valves("v1", 2.5, v1_up_start, v1_up_end, v1_up_state)
add_valves("v1", 1.5, v1_mid_start, v1_mid_end, v1_mid_state)
add_valves("v1", 0.5, v1_low_start, v1_low_end, v1_low_state)
add_line("f1u", f1_up_t, f1_up_v, BLUE)
add_line("f1m", f1_mid_t, f1_mid_v, BLUE)
add_line("f1l", f1_low_t, f1_low_v, BLUE)
# well 2
add_line("w2_up", w2_up_t, w2_up_v, GREEN)
add_line("w2_low", w2_low_t, w2_low_v, BLACK)
add_valves("v2", 1.5, v2_up_start, v2_up_end, v2_up_state)
add_valves("v2", 0.5, v2_low_start, v2_low_end, v2_low_state)
add_line("f2u", f2_up_t, f2_up_v, BLUE)
add_line("f2l", f2_low_t, f2_low_v, BLUE)
# tiltmeters
add_line("k1", k1_ns_t, k1_ns_v, RED)
add_line("k1", k1_ew_t, k1_ew_v, BLACK, 1.6)
add_line("k2", k2_ns_t, k2_ns_v, RED)
add_line("k2", k2_ew_t, k2_ew_v, BLACK, 1.6)
add_line("k21", k21_ns_t, k21_ns_v, RED)
add_line("k21", k21_ew_t, k21_ew_v, BLACK, 1.6)
# BV56-5
add_line("bv56", bv56_19_5_t, bv56_19_5_v, C_ORANGE)
add_line("bv56", bv56_9_5_t, bv56_9_5_v, C_PINK)
add_line("bv56", bv56_17_5_t, bv56_17_5_v, C_OLIVE)
add_line("bv56", bv56_23_5_t, bv56_23_5_v, C_BLUE)
add_line("bv56", bv56_29_5_t, bv56_29_5_v, C_DARK, 1.7)
add_line("bv56", bv56_11_5_t, bv56_11_5_v, C_BLACK, 1.7)
add_line("bv56", bv56_5_5_t, bv56_5_5_v, C_NAVY, 1.7)
# BV58-5
add_line("bv58", bv58_3_5_t, bv58_3_5_v, C_ORANGE)
add_line("bv58", bv58_19_5_t, bv58_19_5_v, C_ORANGE)
add_line("bv58", bv58_13_5_t, bv58_13_5_v, C_OLIVE)
add_line("bv58", bv58_23_5_t, bv58_23_5_v, C_STEEL)
add_line("bv58", bv58_21_5_t, bv58_21_5_v, C_BLACK)
add_line("bv58", bv58_29_5_t, bv58_29_5_v, C_DARK, 1.7)
add_line("bv58", bv58_7_5_t, bv58_7_5_v, C_BLACK, 1.7)
add_line("bv58", bv58_11_5_t, bv58_11_5_v, C_BLUE, 1.6)
add_line("bv58", bv58_1_5_t, bv58_1_5_v, C_NAVY, 1.6)
# BV57-1
add_line("bv57", bv57_17_5_t, bv57_17_5_v, C_OLIVE)
add_line("bv57", bv57_19_5_t, bv57_19_5_v, C_ORANGE)
add_line("bv57", bv57_21_5_t, bv57_21_5_v, C_BLUE)
add_line("bv57", bv57_29_5_t, bv57_29_5_v, C_DARK, 1.7)
add_line("bv57", bv57_7_5_t, bv57_7_5_v, C_BLACK, 1.7)
# rainfall
xr, yr = axref("rain")
fig.add_trace(go.Bar(x=rain_t, y=rain_mm, width=0.06, marker=dict(color="#d8303c", line=dict(width=0)),
                     xaxis=xr, yaxis=yr, hoverinfo="skip"))
# month strip
xr, yr = axref("month")
fig.add_trace(go.Scatter(x=[i + 0.5 for i in range(len(month_labels))], y=[0.45] * len(month_labels),
                         mode="text", text=month_labels, textfont=dict(family=SERIF, size=21, color=INK),
                         xaxis=xr, yaxis=yr, hoverinfo="skip"))

# ---- reference lines for valve operations ----
shapes = []
for t in ops_top:
    shapes.append(dict(type="line", xref="x", yref="paper", x0=t, x1=t, y0=1 - 328 / H, y1=1 - 14 / H,
                       line=dict(color=PINK, width=1), layer="below"))
for t in ops_bottom:
    shapes.append(dict(type="line", xref="x", yref="paper", x0=t, x1=t, y0=1 - 1182 / H, y1=1 - 484 / H,
                       line=dict(color=PINK, width=1), layer="below"))

# ---- annotations ----
ann = []


def txt(text, x, y, size=17, color=INK, family=JP, xanchor="center"):
    ann.append(dict(text=text, x=x / W, y=1 - y / H, xref="paper", yref="paper", showarrow=False,
                    xanchor=xanchor, yanchor="middle", borderpad=0,
                    font=dict(family=family, size=size, color=color)))


def vstack(chars, x, y0, step, size=18, color=INK, family=JP):
    for k, ch in enumerate(chars):
        txt(ch, x, y0 + k * step, size, color, family)


# left titles
vstack(["圧", "力", "水", "頭"], 60, 58, 20.5, 19)
txt("(m)", 60, 142, 17, family=SERIF)
vstack(["集", "水", "量"], 60, 246, 21, 19)
txt("(m<sup>3</sup>/h)", 58, 312, 17, family=SERIF)
vstack(["圧", "力", "水", "頭"], 60, 365, 19.5, 19)
txt("(m)", 60, 443, 17, family=SERIF)
vstack(["集", "水", "量"], 60, 517, 19, 19)
txt("(m<sup>3</sup>/h)", 58, 582, 17, family=SERIF)
vstack(["地", "盤", "傾", "斜", "計"], 27, 670, 18.5, 18)
vstack(["変", "動", "量"], 64, 675, 18, 18)
txt("(秒)", 60, 728, 17)
vstack(["パ", "イ", "プ", "ひ", "ず", "み", "計"], 24, 867, 24, 19)
vstack(["ひ", "ず", "み", "量"], 46, 1020, 21, 19)
txt("(10<sup>-6</sup>ｽﾄﾚｰﾝ)", 97, 1113, 13, xanchor="right")
vstack(["降", "雨", "量"], 52, 1208, 21, 18)
txt("(mm)", 52, 1273, 13, family=SERIF)
# valve row labels
txt("上段", 93, 171, 11)
txt("中段", 93, 183.5, 11)
txt("下段", 93, 196, 11)
txt("上段", 93, 490, 11)
txt("下段", 93, 501, 11)

# right titles
vstack(["上", "層"], 929, 30, 17, 17)
vstack(["中", "層"], 929, 77, 17, 17)
vstack(["下", "層"], 929, 128, 18, 17)
vstack(["集", "水", "井", "1", "号"], 953, 137, 22, 19)
vstack(["バ", "ル", "ブ", "上", "段", "中", "段", "下", "段"], 929, 172, 17.5, 16)
vstack(["上", "層"], 929, 347, 16, 17)
vstack(["下", "層"], 929, 410, 18, 17)
vstack(["集", "水", "井", "2", "号"], 953, 412, 22, 19)
vstack(["バ", "ル", "ブ", "上", "段", "下", "段"], 929, 472, 17.5, 16)
for lab, yy in [("k-1", 617), ("k-2", 707), ("k-2-1", 805), ("BV56-5", 897), ("BV58-5", 1018), ("BV57-1", 1111)]:
    txt(lab, 918, yy, 16, family=SERIF, xanchor="left")

# in-panel labels
txt("N-S方向", 483, 592, 16, xanchor="left")
txt("E-W方向", 460, 637, 16, xanchor="left")
txt("E-W方向", 487, 677, 16, xanchor="left")
txt("N-S方向", 487, 755, 16, xanchor="left")
txt("E-W方向", 720, 792, 16, xanchor="left")
txt("<b>9.5m</b>", 479, 860, 13, C_PINK, SERIF)
txt("<b>19.5m</b>", 272, 938, 13, C_ORANGE, SERIF)
txt("<b>29.5m</b>", 350, 933, 13, C_DARK, SERIF)
txt("<b>5.5m</b>", 725, 862, 13, C_NAVY, SERIF)
txt("<b>29.5m</b>", 250, 1043, 13, C_DARK, SERIF)
txt("<b>3.5m</b>", 672, 974, 13, C_PINK, SERIF)
txt("<b>11.5m</b>", 738, 974, 13, C_BLUE, SERIF)
txt("<b>19.5m</b>", 791, 997, 13, C_ORANGE, SERIF)
txt("<b>1.5m</b>", 865, 1048, 13, C_NAVY, SERIF)
txt("<b>29.5m</b>", 312, 1172, 13, C_DARK, SERIF)
txt("<b>17.5m</b>", 572, 1160, 13, C_OLIVE, SERIF)
txt("<b>19.5m</b>", 750, 1082, 13, C_ORANGE, SERIF)
txt("<b>7.5m</b>", 863, 1083, 13, C_BLACK, SERIF)
txt("<b>21.5m</b>", 866, 1148, 13, C_BLUE, SERIF)

# circled operation numbers and years (placed on the time axis)
xr2, _ = axref("v2")
for lab, t in zip(op_numbers, op_times):
    ann.append(dict(text=lab, x=t, y=1 - 463 / H, xref=xr2, yref="paper", showarrow=False,
                    yanchor="middle", xanchor="center", font=dict(family=JP, size=20, color=INK)))
xr19, _ = axref("rain")
for lab, t in zip(year_labels, year_pos):
    ann.append(dict(text=lab, x=t, y=1 - 1250 / H, xref=xr19, yref="paper", showarrow=False,
                    yanchor="middle", xanchor="center", font=dict(family=SERIF, size=16, color=INK)))

# legend block
txt("□バルブ開放", 116, 1315, 18, xanchor="left")
txt("■バルブ閉止", 291, 1315, 18, xanchor="left")
txt("<span style='color:%s'>■</span>バルブ半閉止" % HALF, 468, 1315, 18, xanchor="left")
txt("①～④バルブ開閉操作の番号", 664, 1315, 18, xanchor="left")

legend_rows = [
    (1344, "BV56-5孔の各変動深度",
     [("(5.5m)", C_NAVY), ("(9.5m)", C_PINK), ("(11.5m)", C_BLACK), ("(17.5m)", "#a8a878"),
      ("(19.5m)", C_ORANGE), ("(23.5m)", C_BLUE), ("(29.5m)", C_DARK)],
     [292, 365, 445, 523, 603, 683, 765]),
    (1373, "BV58-5孔の各変動深度",
     [("(1.5m)", C_NAVY), ("(3.5m)", C_PINK), ("(7.5m)", C_BLACK), ("(11.5m)", C_BLUE), ("(13.5m)", "#a8a878"),
      ("(19.5m)", C_ORANGE), ("(21.5m)", C_BLACK), ("(23.5m)", C_STEEL), ("(29.5m)", C_DARK)],
     [292, 364, 442, 514, 592, 670, 742, 820, 898]),
    (1403, "BV57-1孔の各変動深度",
     [("(7.5m)", C_BLACK), ("(17.5m)", "#a8a878"), ("(19.5m)", C_ORANGE), ("(21.5m)", C_BLUE), ("(29.5m)", C_DARK)],
     [292, 368, 448, 530, 610]),
]
for yy, label, groups, xs in legend_rows:
    txt(label, 112, yy, 16, family=DSERIF, xanchor="left")
    for (g, col), xx in zip(groups, xs):
        txt(g, xx, yy, 16, col, DSERIF, xanchor="left")

fig.update_layout(
    width=W, height=H, margin=dict(l=0, r=0, t=0, b=0),
    paper_bgcolor="white", plot_bgcolor="rgba(0,0,0,0)",
    showlegend=False, barmode="overlay", hovermode=False,
    shapes=shapes, annotations=ann,
    **layout_axes,
)
fig.write_html("out.html")
